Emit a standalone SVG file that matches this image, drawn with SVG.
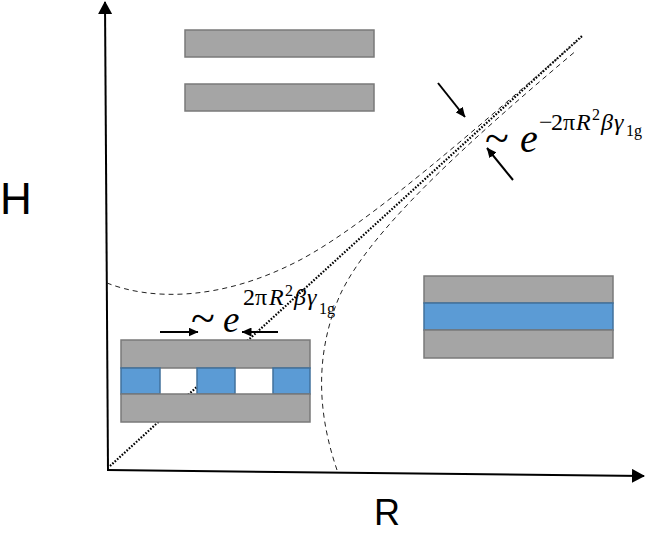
<svg xmlns="http://www.w3.org/2000/svg" width="645" height="534" viewBox="0 0 645 534">
<style>
.gray{fill:#a5a5a5;stroke:#7a7a7a;stroke-width:1.5}
.blue{fill:#5b9bd5;stroke:#41719c;stroke-width:1.5}
.dash{fill:none;stroke:#222;stroke-width:1;stroke-dasharray:5 4}
.dot{fill:none;stroke:#000;stroke-width:2.2;stroke-dasharray:1.6 1.6}
.axis{fill:none;stroke:#000;stroke-width:2}
.arr{fill:none;stroke:#000;stroke-width:2}
.math{font-family:"Liberation Serif","Times New Roman",serif;fill:#000}
.lbl{font-family:"Liberation Sans",Arial,sans-serif;fill:#000}
</style>
<defs>
<marker id="axhead" markerUnits="userSpaceOnUse" markerWidth="13" markerHeight="14" viewBox="0 0 13 14" refX="12" refY="7" orient="auto">
<path d="M0,0 L13,7 L0,14 z" fill="#000"/>
</marker>
<marker id="head" markerUnits="userSpaceOnUse" markerWidth="10" markerHeight="9" viewBox="0 0 10 9" refX="9.5" refY="4.5" orient="auto">
<path d="M0,0 L10,4.5 L0,9 z" fill="#000"/>
</marker>
</defs>
<rect width="645" height="534" fill="#fff"/>

<g id="connectors">
<line class="axis" x1="108" y1="471" x2="105" y2="2" marker-end="url(#axhead)"/>
<line class="axis" x1="107" y1="470" x2="644" y2="476" marker-end="url(#axhead)"/>
<line class="dot" x1="110" y1="466" x2="582" y2="36"/>
<path class="dash" d="M107,283 C150,300 220,302 300,260 C370,223 480,125 582,37"/>
<path class="dash" d="M337,470 C320,420 312,360 340,295 C370,230 470,140 577,50"/>
<line class="arr" x1="438" y1="83" x2="465" y2="117" marker-end="url(#head)"/>
<line class="arr" x1="513" y1="180" x2="487" y2="148" marker-end="url(#head)"/>
<line class="arr" x1="160" y1="332" x2="198" y2="332" marker-end="url(#head)"/>
<line class="arr" x1="278" y1="332" x2="242" y2="332" marker-end="url(#head)"/>
</g>

<g id="plates-separated">
<rect class="gray" x="185" y="30" width="189" height="27"/>
<rect class="gray" x="185" y="84" width="189" height="27"/>
</g>

<g id="plates-filled">
<rect class="gray" x="424" y="276" width="189" height="27"/>
<rect class="blue" x="424" y="303" width="189" height="27"/>
<rect class="gray" x="424" y="330" width="189" height="28"/>
</g>

<g id="plates-bridges">
<rect class="gray" x="121" y="340" width="189" height="28"/>
<rect class="blue" x="121" y="368" width="39" height="26"/>
<rect class="blue" x="197" y="368" width="38" height="26"/>
<rect class="blue" x="273" y="368" width="37" height="26"/>
<rect class="gray" x="121" y="394" width="189" height="28"/>
</g>

<g id="formula-top">
<text class="math" x="485" y="153" font-size="44">~</text>
<text class="math" x="520" y="152" font-size="40" font-style="italic">e</text>
<text class="math" y="130" font-size="24"><tspan x="539">−</tspan><tspan x="551">2</tspan><tspan x="563">π</tspan><tspan x="576" font-style="italic">R</tspan></text>
<text class="math" x="592" y="120" font-size="16">2</text>
<text class="math" y="130" font-size="24" font-style="italic"><tspan x="601">β</tspan><tspan x="614">γ</tspan></text>
<text class="math" x="626" y="136" font-size="16">1g</text>
</g>

<g id="formula-left">
<text class="math" x="191" y="333" font-size="44">~</text>
<text class="math" x="223" y="332" font-size="37" font-style="italic">e</text>
<text class="math" y="305" font-size="24"><tspan x="243">2</tspan><tspan x="255">π</tspan><tspan x="269" font-style="italic">R</tspan></text>
<text class="math" x="285" y="296" font-size="16">2</text>
<text class="math" y="305" font-size="24" font-style="italic"><tspan x="294">β</tspan><tspan x="307">γ</tspan></text>
<text class="math" x="319" y="314" font-size="16">1g</text>
</g>

<g id="axis-labels">
<text class="lbl" x="0" y="214" font-size="44">H</text>
<text class="lbl" x="374" y="525" font-size="36">R</text>
</g>
</svg>
